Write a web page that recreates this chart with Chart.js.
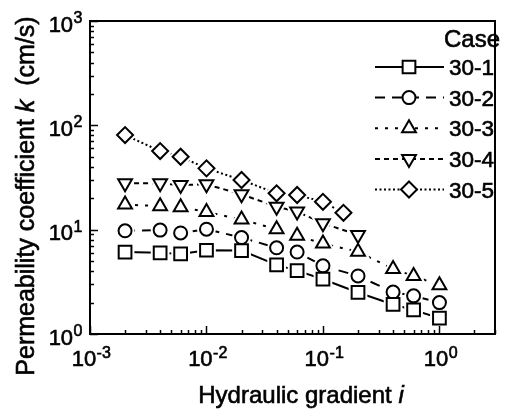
<!DOCTYPE html>
<html>
<head>
<meta charset="utf-8">
<script src="https://cdn.jsdelivr.net/npm/chart.js@4.4.1/dist/chart.umd.min.js"></script>
<style>
  html, body { margin: 0; background: #fff; }
</style>
</head>
<body>
<canvas id="chart" width="510" height="416"></canvas>
<script>
// hydraulic gradient i (x) and permeability k in cm/s (y)
const gradient = [0.002, 0.004, 0.006, 0.01, 0.02, 0.04, 0.06, 0.1, 0.2, 0.4, 0.6, 1]
const gradient4 = [0.002, 0.004, 0.006, 0.01, 0.02, 0.04, 0.06, 0.1, 0.2]
const gradient5 = [0.002, 0.004, 0.006, 0.01, 0.02, 0.04, 0.06, 0.1, 0.15]

const k30_1 = [6.1, 6.0, 5.85, 6.35, 6.3, 4.6, 4.05, 3.35, 2.5, 1.92, 1.7, 1.42]
const k30_2 = [9.75, 9.9, 9.3, 10.1, 8.4, 6.7, 6.1, 4.5, 3.6, 2.52, 2.32, 2.0]
const k30_3 = [17.4, 16.8, 16.4, 14.8, 12.5, 10.1, 8.75, 7.35, 6.15, 4.2, 3.6, 2.93]
const k30_4 = [27.8, 27.8, 26.8, 27.2, 21.8, 16.6, 14.9, 11.5, 8.9]
const k30_5 = [80.7, 56.7, 50, 38.7, 29.9, 22.3, 21.5, 18.5, 14.5]

const caseLabels = ['30-1', '30-2', '30-3', '30-4', '30-5']
const xTickExps = [-3, -2, -1, 0]
const yTickExps = [0, 1, 2, 3]

const FONT = '"Liberation Sans", Arial, Helvetica, sans-serif'

const series = [
  { x: gradient,  y: k30_1, style: 'rect',     radius: 9,   rot: 0,   dash: [] },
  { x: gradient,  y: k30_2, style: 'circle',   radius: 6.5, rot: 0,   dash: [10, 7] },
  { x: gradient,  y: k30_3, style: 'triangle', radius: 8,   rot: 0,   dash: [3, 7] },
  { x: gradient4, y: k30_4, style: 'triangle', radius: 8,   rot: 180, dash: [5, 4] },
  { x: gradient5, y: k30_5, style: 'rectRot',  radius: 8,   rot: 0,   dash: [2, 2.5] },
]

const datasets = []
series.forEach((s, i) => {
  const pts = s.x.map((x, j) => ({ x, y: s.y[j] }))
  // line with a white halo round each point
  datasets.push({
    label: caseLabels[i], data: pts, order: 2,
    borderColor: '#000', borderWidth: 2, borderDash: s.dash, tension: 0,
    pointStyle: s.style, pointRotation: s.rot, pointRadius: s.radius,
    pointBorderWidth: 6, pointBorderColor: '#fff', pointBackgroundColor: '#fff',
  })
  // hollow markers on top
  datasets.push({
    label: caseLabels[i], data: pts, order: 1, showLine: false,
    pointStyle: s.style, pointRotation: s.rot, pointRadius: s.radius,
    pointBorderWidth: 2, pointBorderColor: '#000', pointBackgroundColor: '#fff',
  })
})

// scanned text looks heavier, so give it a thin outline
function text(ctx, t, x, y) {
  ctx.fillText(t, x, y)
  ctx.lineWidth = 0.6
  ctx.setLineDash([])
  ctx.strokeText(t, x, y)
}

function drawPower(ctx, exp, x, y, align) {
  ctx.font = `22px ${FONT}`
  const w1 = ctx.measureText('10').width
  ctx.font = `16px ${FONT}`
  const w2 = ctx.measureText(exp).width
  const left = align === 'center' ? x - (w1 + w2) / 2 : x - (w1 + w2)
  ctx.textAlign = 'left'
  ctx.textBaseline = 'alphabetic'
  ctx.font = `22px ${FONT}`
  text(ctx, '10', left, y)
  ctx.font = `16px ${FONT}`
  text(ctx, exp, left + w1 + 0.5, y - 8.5)
}

function drawRich(ctx, parts, x, y, size) {
  let total = 0
  parts.forEach(p => {
    ctx.font = `${p.it ? 'italic ' : ''}${size}px ${FONT}`
    total += ctx.measureText(p.t).width
  })
  let cx = x - total / 2
  ctx.textAlign = 'left'
  ctx.textBaseline = 'alphabetic'
  parts.forEach(p => {
    ctx.font = `${p.it ? 'italic ' : ''}${size}px ${FONT}`
    text(ctx, p.t, cx, y)
    cx += ctx.measureText(p.t).width
  })
}

function marker(ctx, style, x, y, r, rot) {
  ctx.beginPath()
  if (style === 'rect') {
    const h = r * Math.SQRT1_2
    ctx.rect(x - h, y - h, 2 * h, 2 * h)
  } else if (style === 'circle') {
    ctx.arc(x, y, r, 0, Math.PI * 2)
  } else if (style === 'rectRot') {
    ctx.moveTo(x, y - r); ctx.lineTo(x + r, y); ctx.lineTo(x, y + r); ctx.lineTo(x - r, y); ctx.closePath()
  } else {
    const s = rot ? -1 : 1
    const a = Math.PI * 2 / 3
    for (let k = 0; k < 3; k++) {
      const px = x + Math.sin(k * a) * r, py = y - s * Math.cos(k * a) * r
      k ? ctx.lineTo(px, py) : ctx.moveTo(px, py)
    }
    ctx.closePath()
  }
  ctx.fillStyle = '#fff'
  ctx.fill()
  ctx.stroke()
}

const decorations = {
  id: 'decorations',
  afterDraw(chart) {
    const { ctx, chartArea: a } = chart
    const xs = chart.scales.x, ys = chart.scales.y
    ctx.save()
    ctx.strokeStyle = '#000'
    ctx.fillStyle = '#000'

    // ticks pointing inwards
    ctx.lineWidth = 1.5
    ctx.setLineDash([])
    for (let e = -3; e <= 0; e++) {
      for (let m = 1; m <= 9; m++) {
        const v = m * Math.pow(10, e)
        if (v > xs.max) break
        const px = Math.round(xs.getPixelForValue(v)) + 0.5
        const len = m === 1 ? 8 : 4
        ctx.beginPath(); ctx.moveTo(px, a.bottom); ctx.lineTo(px, a.bottom - len); ctx.stroke()
      }
    }
    for (let e = 0; e <= 3; e++) {
      for (let m = 1; m <= 9; m++) {
        const v = m * Math.pow(10, e)
        if (v > ys.max) break
        const py = Math.round(ys.getPixelForValue(v)) + 0.5
        const len = m === 1 ? 8 : 4
        ctx.beginPath(); ctx.moveTo(a.left, py); ctx.lineTo(a.left + len, py); ctx.stroke()
      }
    }

    // frame
    ctx.lineWidth = 2
    ctx.strokeRect(a.left, a.top, a.right - a.left, a.bottom - a.top)

    // tick labels
    xTickExps.forEach(e => drawPower(ctx, String(e), xs.getPixelForValue(Math.pow(10, e)) + 1, a.bottom + 32, 'center'))
    yTickExps.forEach(e => drawPower(ctx, String(e), a.left - 8, ys.getPixelForValue(Math.pow(10, e)) + 10.5, 'right'))

    // axis titles
    drawRich(ctx, [{ t: 'Hydraulic gradient ' }, { t: 'i', it: true }], 301, 402.5, 24)
    ctx.save()
    ctx.translate(33.5, 196)
    ctx.rotate(-Math.PI / 2)
    drawRich(ctx, [{ t: 'Permeability coefficient ' }, { t: 'k', it: true }, { t: '  (cm/s)' }], 0, 0, 25)
    ctx.restore()

    // legend
    ctx.font = `24px ${FONT}`
    ctx.textAlign = 'right'
    ctx.textBaseline = 'alphabetic'
    text(ctx, 'Case', 500, 47)
    const rows = [67, 97.6, 128.2, 158.9, 189.5]
    series.forEach((s, i) => {
      const y = rows[i]
      ctx.lineWidth = 2
      ctx.setLineDash(s.dash)
      ctx.beginPath(); ctx.moveTo(375, y); ctx.lineTo(444, y); ctx.stroke()
      ctx.setLineDash([])
      marker(ctx, s.style, 409, y, s.radius, s.rot)
      ctx.fillStyle = '#000'
      ctx.font = `22.5px ${FONT}`
      ctx.textAlign = 'left'
      text(ctx, caseLabels[i], 449, y + 8)
    })
    ctx.restore()
  },
}

new Chart(document.getElementById('chart'), {
  type: 'line',
  data: { datasets },
  options: {
    responsive: false,
    animation: false,
    events: [],
    layout: { padding: { left: 90, right: 5, top: 21, bottom: 82 } },
    plugins: { legend: { display: false }, tooltip: { enabled: false } },
    scales: {
      x: { type: 'logarithmic', min: 0.001, max: 3, display: false },
      y: { type: 'logarithmic', min: 1, max: 1000, display: false },
    },
  },
  plugins: [decorations],
})
</script>
</body>
</html>
